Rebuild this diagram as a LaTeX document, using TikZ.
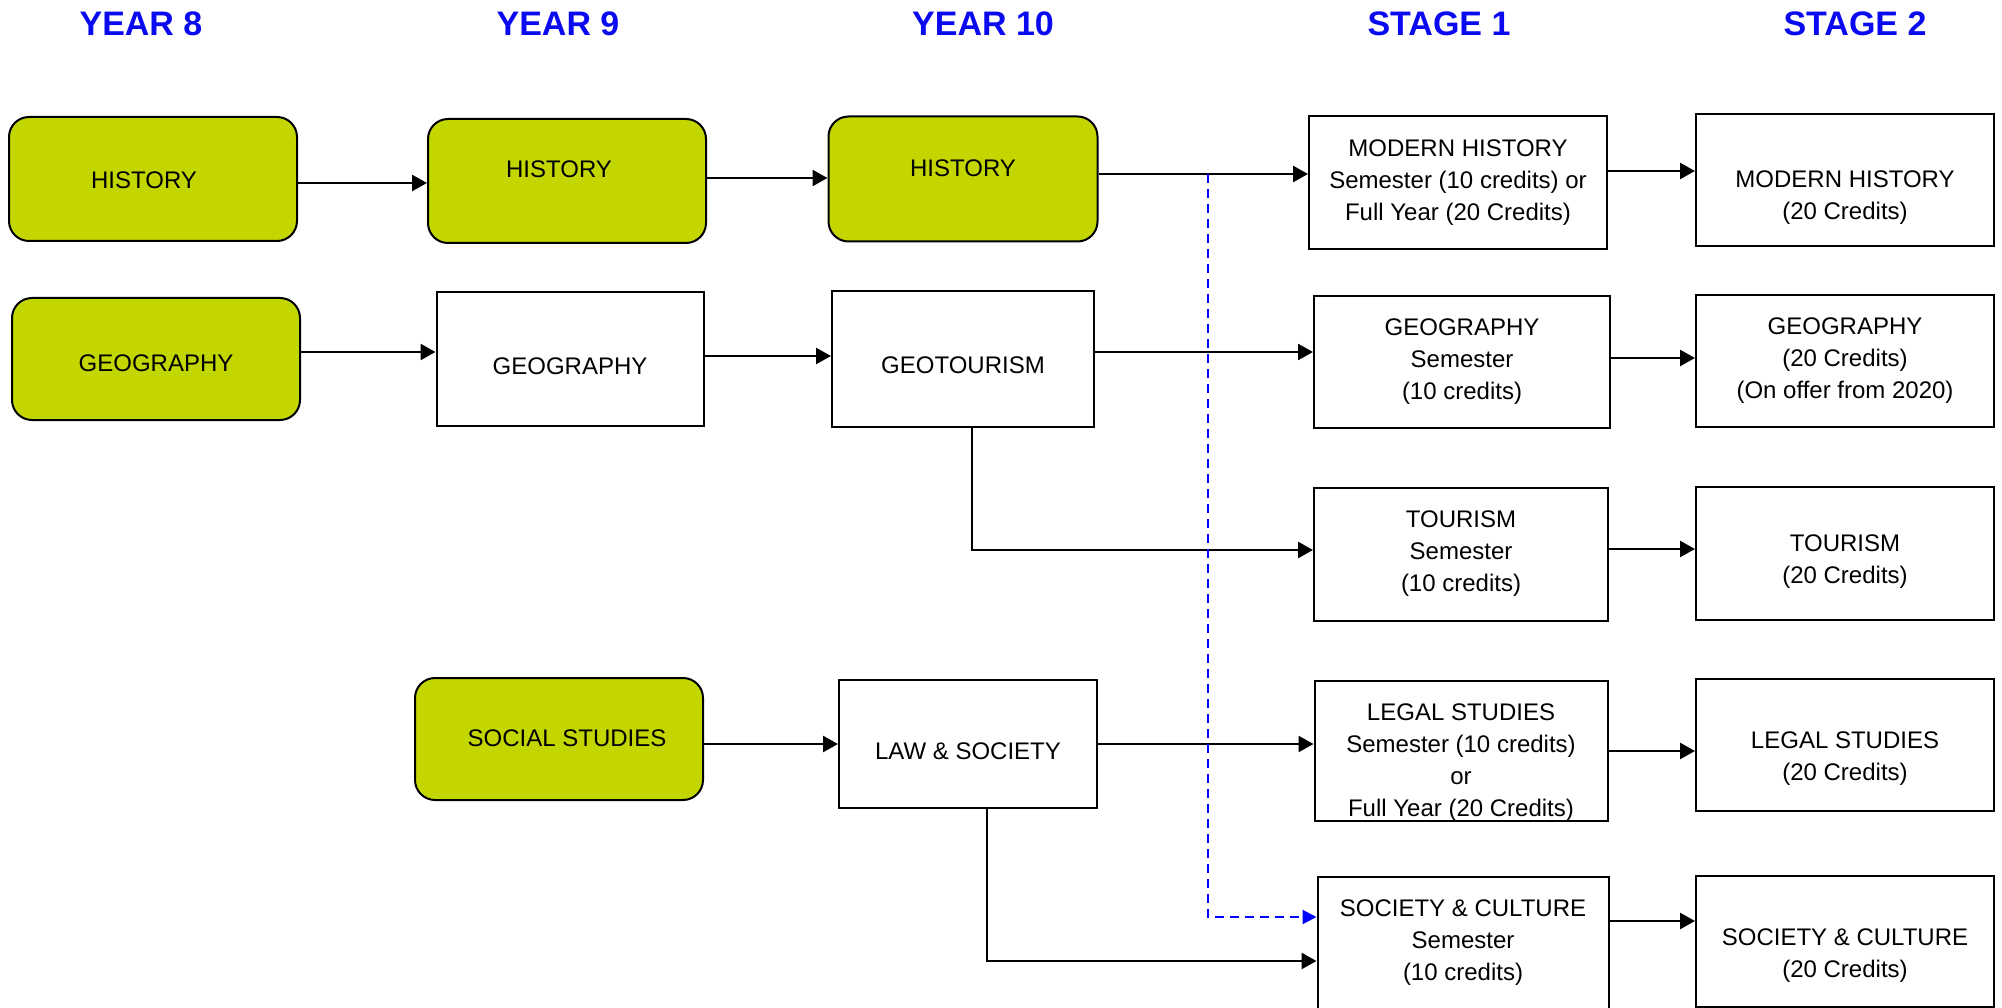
\documentclass[tikz,border=0pt]{standalone}
\usepackage{fontspec}
\setmainfont{Liberation Sans}
\usetikzlibrary{arrows.meta}
\definecolor{subjgreen}{RGB}{196,214,0}
\definecolor{headblue}{RGB}{10,10,240}
% text moved inside its box: x shift, raise, lines
\newcommand{\boxtext}[3]{\raisebox{#2}[\height][\depth]{\hspace*{#1}\begin{tabular}{@{}c@{}}#3\end{tabular}\hspace*{-#1}}}
\begin{document}
\begin{tikzpicture}[x=1pt,y=-1pt,
    box/.style={draw,line width=2pt,align=center,inner sep=0pt,
      font=\fontsize{24}{32}\selectfont},
    greenbox/.style={box,fill=subjgreen,rounded corners=20pt},
    whitebox/.style={box,fill=white},
    heading/.style={text=headblue,font=\fontsize{34}{40}\selectfont\bfseries},
    arr/.style={line width=2.5pt,-{Triangle[length=15pt,width=16pt]}},
    dasharr/.style={blue,line width=2pt,dash pattern=on 9pt off 6pt,
      -{Triangle[length=14pt,width=14pt]}}]
        \useasboundingbox (0,0) rectangle (2002,1008);

        %headings of the columns
        \node[heading] (y8) at (141,24) {YEAR 8};
        \node[heading] (y9) at (558,24) {YEAR 9};
        \node[heading] (y10) at (983,24) {YEAR 10};
        \node[heading] (s1) at (1439,24) {STAGE 1};
        \node[heading] (s2) at (1855,24) {STAGE 2};

        %history row
        \node[greenbox,minimum width=288,minimum height=124] (h8) at (153,179) {\boxtext{-9pt}{-3pt}{HISTORY}};
        \node[greenbox,minimum width=278,minimum height=124] (h9) at (567,181) {\boxtext{-8pt}{10pt}{HISTORY}};
        \node[greenbox,minimum width=269,minimum height=125] (h10) at (963,179) {\boxtext{0pt}{9pt}{HISTORY}};
        \node[whitebox,minimum width=298,minimum height=133] (mh1) at (1458,183)
            {MODERN HISTORY\\Semester (10 credits) or\\Full Year (20 Credits)};
        \node[whitebox,minimum width=298,minimum height=132] (mh2) at (1845,180)
            {\boxtext{0pt}{-17pt}{MODERN HISTORY\\(20 Credits)}};

        %geography row
        \node[greenbox,minimum width=288,minimum height=122] (g8) at (156,359) {\boxtext{0pt}{-6pt}{GEOGRAPHY}};
        \node[whitebox,minimum width=267,minimum height=134] (g9) at (570,359) {\boxtext{0pt}{-9pt}{GEOGRAPHY}};
        \node[whitebox,minimum width=262,minimum height=135] (gt10) at (963,359) {\boxtext{0pt}{-8pt}{GEOTOURISM}};
        \node[whitebox,minimum width=296,minimum height=132] (g1) at (1462,362)
            {GEOGRAPHY\\Semester\\(10 credits)};
        \node[whitebox,minimum width=298,minimum height=131] (g2) at (1845,361)
            {GEOGRAPHY\\(20 Credits)\\(On offer from 2020)};

        %tourism row
        \node[whitebox,minimum width=294,minimum height=133] (t1) at (1461,554)
            {TOURISM\\Semester\\(10 credits)};
        \node[whitebox,minimum width=298,minimum height=133] (t2) at (1845,553)
            {\boxtext{0pt}{-8pt}{TOURISM\\(20 Credits)}};

        %legal studies row
        \node[greenbox,minimum width=288,minimum height=122] (ss9) at (559,739) {\boxtext{8pt}{-1pt}{SOCIAL STUDIES}};
        \node[whitebox,minimum width=258,minimum height=128] (ls10) at (968,744) {\boxtext{0pt}{-9pt}{LAW \& SOCIETY}};
        \node[whitebox,minimum width=293,minimum height=140] (l1) at (1461,751)
            {\boxtext{0pt}{-11pt}{LEGAL STUDIES\\Semester (10 credits)\\or\\Full Year (20 Credits)}};
        \node[whitebox,minimum width=298,minimum height=132] (l2) at (1845,745)
            {\boxtext{0pt}{-13pt}{LEGAL STUDIES\\(20 Credits)}};

        %society and culture row
        \node[whitebox,minimum width=291,minimum height=133] (sc1) at (1463,943)
            {SOCIETY \& CULTURE\\Semester\\(10 credits)};
        \node[whitebox,minimum width=298,minimum height=131] (sc2) at (1845,941)
            {\boxtext{0pt}{-14pt}{SOCIETY \& CULTURE\\(20 Credits)}};

        %arrows between the boxes
        \draw[arr] ([yshift=-4pt]h8.east) -- ([yshift=-4pt]h8.east -| h9.west);
        \draw[arr] ([yshift=3pt]h9.east) -- ([yshift=3pt]h9.east -| h10.west);
        \draw[arr] ([yshift=5pt]h10.east) -- ([yshift=5pt]h10.east -| mh1.west);
        \draw[arr] ([yshift=12pt]mh1.east) -- ([yshift=12pt]mh1.east -| mh2.west);
        \draw[arr] ([yshift=7pt]g8.east) -- ([yshift=7pt]g8.east -| g9.west);
        \draw[arr] ([yshift=3pt]g9.east) -- ([yshift=3pt]g9.east -| gt10.west);
        \draw[arr] ([yshift=7pt]gt10.east) -- ([yshift=7pt]gt10.east -| g1.west);
        \draw[arr] ([yshift=4pt]g1.east) -- ([yshift=4pt]g1.east -| g2.west);
        \draw[arr] ([xshift=9pt]gt10.south) |- ([yshift=4pt]t1.west);
        \draw[arr] ([yshift=5pt]t1.east) -- ([yshift=5pt]t1.east -| t2.west);
        \draw[arr] (ls10.west -| ss9.east) -- (ls10.west);
        \draw[arr] (ls10.east) -- (ls10.east -| l1.west);
        \draw[arr] (l1.east) -- (l1.east -| l2.west);
        \draw[arr] ([xshift=19pt]ls10.south) |- ([yshift=-18pt]sc1.west);
        \draw[arr] ([yshift=22pt]sc1.east) -- ([yshift=22pt]sc1.east -| sc2.west);

        %dashed link from year 10 history
        \path ([yshift=5pt]h10.east) ++(109,0) coordinate (split);
        \draw[dasharr] (split) |- ([yshift=26pt]sc1.west);
\end{tikzpicture}
\end{document}
